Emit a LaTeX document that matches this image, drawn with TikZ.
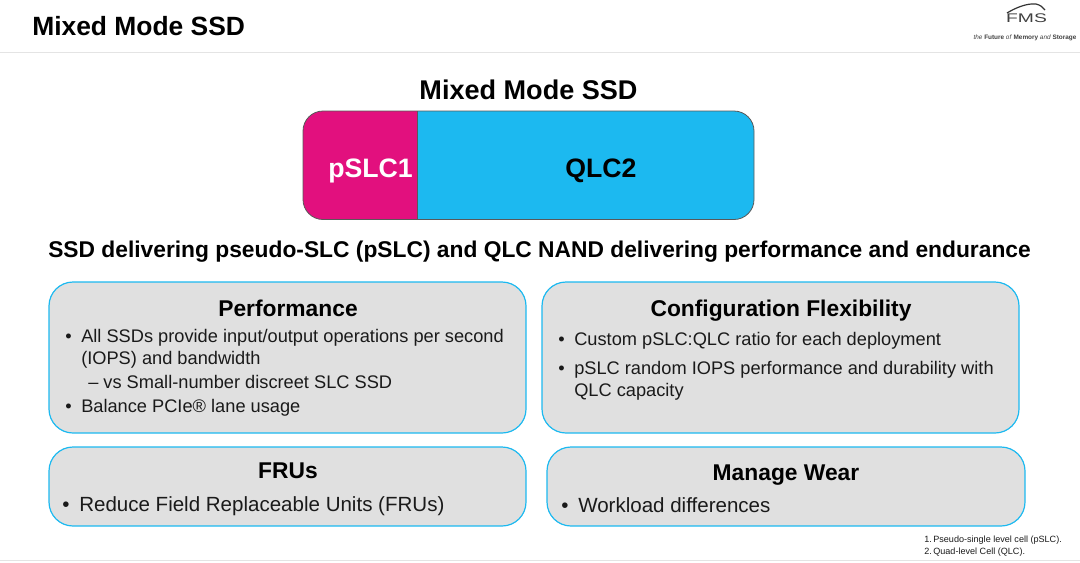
\documentclass[tikz,border=0pt]{standalone}
\usepackage{fontspec}
\setmainfont{Liberation Sans}
\usetikzlibrary{positioning, calc}
\definecolor{panelgray}{HTML}{E0E0E0}
\definecolor{panelblue}{HTML}{1CB9F0}
\definecolor{pslcpink}{HTML}{E2107E}
\definecolor{rulegray}{HTML}{E4E4E4}
\definecolor{bodytext}{HTML}{1A1A1A}
\newcommand{\upmark}[2]{\raisebox{#1}{\fontsize{#2}{#2}\selectfont\mdseries}}

\begin{document}
\begin{tikzpicture}[
    x=0.75pt, y=-0.75pt,
    panel/.style={draw=panelblue, fill=panelgray, line width=0.9pt, rounded corners=18pt},
    heading/.style={anchor=base, font=\fontsize{17.1}{20}\selectfont\bfseries, text=black, inner sep=0pt},
    item/.style={anchor=base west, font=\fontsize{13.67}{16}\selectfont, text=bodytext, inner sep=0pt},
    biggeritem/.style={item, font=\fontsize{15.4}{18}\selectfont},
    note/.style={anchor=base west, font=\fontsize{6.8}{8}\selectfont, text=bodytext, inner sep=0pt},
    barlabel/.style={anchor=base west, font=\fontsize{20}{22}\selectfont\bfseries, inner sep=0pt}
]
\useasboundingbox (0,0) rectangle (1080,562);

% Header
\node[anchor=base west, font=\fontsize{19.8}{22}\selectfont\bfseries, inner sep=0pt] (pagetitle) at (32,35) {Mixed Mode SSD};
\draw[rulegray, line width=0.8pt] (0,52.5) -- (1080,52.5);
\draw[rulegray, line width=0.8pt] (0,560.5) -- (1080,560.5);

% Logo
\node[anchor=base, font=\fontsize{9.4}{12}\selectfont, text=black!75, inner sep=0pt, xscale=1.54] (logo) at (1026.5,22) {FMS};
\draw[black!80, line width=0.9pt] (1007,13) .. controls (1015,8) and (1027,3) .. (1036,4) .. controls (1040,5) and (1043,7) .. (1045,10);
\node[anchor=base, font=\fontsize{4.8}{6}\selectfont, text=black!75, inner sep=0pt] (tagline) at (1025,39) {\textit{the} \textbf{Future} \textit{of} \textbf{Memory} \textit{and} \textbf{Storage}};

% Bar
\node[heading, font=\fontsize{20.3}{22}\selectfont\bfseries] (bartitle) at (528.5,99) {Mixed Mode SSD};
\fill[pslcpink] (417,111) [rounded corners=15pt] -- (303,111) -- (303,219.5) [sharp corners] -- (417,219.5) -- cycle;
\fill[panelblue] (417,111) [rounded corners=15pt] -- (754,111) -- (754,219.5) [sharp corners] -- (417,219.5) -- cycle;
\draw[black!65, line width=0.6pt, rounded corners=15pt] (303,165) -- (303,111) -- (754,111) -- (754,219.5) -- (303,219.5) -- cycle;
\draw[black!65, line width=0.5pt] (417,111) -- (417,219.5);
\node[barlabel, text=white] (pslc) at (328,177) {pSLC\upmark{6.5pt}{9.5}{1}};
\node[barlabel, text=black] (qlc) at (565,177) {QLC\upmark{6.5pt}{9.5}{2}};

% Subtitle
\node[anchor=base west, font=\fontsize{17.09}{20}\selectfont\bfseries, inner sep=0pt] (subtitle) at (48,257) {SSD delivering pseudo-SLC (pSLC) and QLC NAND delivering performance and endurance};

% Panels
\draw[panel] (49,282) rectangle (526,433);
\draw[panel] (542,282) rectangle (1019,433);
\draw[panel] (49,447) rectangle (526,526);
\draw[panel] (547,447) rectangle (1025,526);

% Performance
\node[heading] (perf) at (288,316) {Performance};
\node[item] (perfa) at (65,342) {•};
\node[item] (perfb) at (81,342) {All SSDs provide input/output operations per second};
\node[item] (perfc) at (81,364) {(IOPS) and bandwidth};
\node[item] (perfd) at (88,388) {– vs Small-number discreet SLC SSD};
\node[item] (perfe) at (65,412) {•};
\node[item] (perff) at (81,412) {Balance PCIe\upmark{5pt}{8}{®} lane usage};

% Flexibility
\node[heading] (flex) at (781,316) {Configuration Flexibility};
\node[item] (flexa) at (558,345) {•};
\node[item] (flexb) at (574,345) {Custom pSLC:QLC ratio for each deployment};
\node[item] (flexc) at (558,374) {•};
\node[item] (flexd) at (574,374) {pSLC random IOPS performance and durability with};
\node[item] (flexe) at (574,396) {QLC capacity};

% FRUs
\node[heading] (frus) at (288,478) {FRUs};
\node[biggeritem] (frua) at (62,511) {•};
\node[biggeritem] (frub) at (79,511) {Reduce Field Replaceable Units (FRUs)};

% Wear
\node[heading] (wear) at (786,480) {Manage Wear};
\node[biggeritem] (weara) at (561,512) {•};
\node[biggeritem] (wearb) at (578,512) {Workload differences};

% Footnotes
\node[note] (noteone) at (924,542) {1.\,Pseudo-single level cell (pSLC).};
\node[note] (notetwo) at (924,554) {2.\,Quad-level Cell (QLC).};

\end{tikzpicture}
\end{document}
